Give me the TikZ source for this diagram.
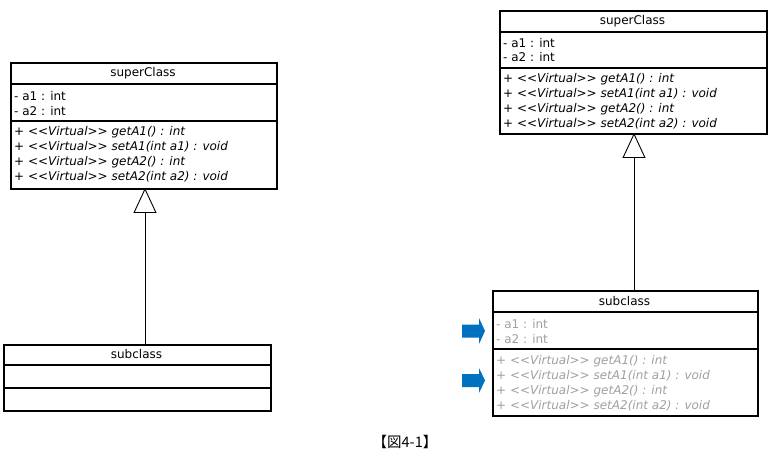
\documentclass[tikz,border=0pt]{standalone}
\usepackage{fontspec}
\setmainfont{DejaVu Sans}[Ligatures=ResetAll]
\newfontfamily\cjkfont{Noto Sans CJK JP}
\usetikzlibrary{arrows.meta}
\definecolor{arrowblue}{HTML}{0070C0}
\definecolor{fadedtext}{HTML}{A0A0A0}
\newcommand\dlt{<\kern0pt<}
\newcommand\dgt{>\kern0pt>}
\tikzset{
  classbox/.style={draw, line width=1.8pt, fill=white, rectangle, inner sep=0pt, anchor=north west},
  sepline/.style={line width=1.8pt},
  title/.style={font=\fontsize{12}{14}\selectfont, inner sep=0pt, anchor=center},
  member/.style={font=\fontsize{12}{14}\selectfont, inner sep=0pt, anchor=west},
  method/.style={font=\fontsize{12}{14}\selectfont\itshape, inner sep=0pt, anchor=west},
  faded/.style={text=fadedtext},
  inherit/.style={line width=0.9pt, -{Triangle[open, width=23pt, length=25pt, line width=0.9pt]}},
  pointer/.style={fill=arrowblue}
}
\begin{document}
\begin{tikzpicture}[x=1pt,y=-1pt]
\useasboundingbox (0,0) rectangle (770,462);
% ---------- left superClass ----------
\node[classbox, minimum width=266pt, minimum height=126pt] (Lsup) at (10,62) {};
\draw[sepline] (10,84) -- (276,84);
\draw[sepline] (10,121) -- (276,121);
\node[title] (Lsupt) at (143,73) {superClass};
\node[member] (La1) at (14,96) {- a1 : int};
\node[member] (La2) at (14,111) {- a2 : int};
\node[method] (Lm1) at (14,132) {+ \dlt Virtual\dgt{} getA1() : int};
\node[method] (Lm2) at (14,147) {+ \dlt Virtual\dgt{} setA1(int a1) : void};
\node[method] (Lm3) at (14,162) {+ \dlt Virtual\dgt{} getA2() : int};
\node[method] (Lm4) at (14,177) {+ \dlt Virtual\dgt{} setA2(int a2) : void};
% ---------- left subclass ----------
\node[classbox, minimum width=267pt, minimum height=66pt] (Lsub) at (3,344) {};
\draw[sepline] (3,365) -- (270,365);
\draw[sepline] (3,388) -- (270,388);
\node[title] (Lsubt) at (136.5,354.5) {subclass};
\coordinate (Lsubtop) at (145,344);
\coordinate (Lsupbot) at (145,188);
\draw[inherit] (Lsubtop) -- (Lsupbot);
% ---------- right superClass ----------
\node[classbox, minimum width=267pt, minimum height=123pt] (Rsup) at (499,10) {};
\draw[sepline] (499,32) -- (766,32);
\draw[sepline] (499,68) -- (766,68);
\node[title] (Rsupt) at (632.5,21) {superClass};
\node[member] (Ra1) at (503,43) {- a1 : int};
\node[member] (Ra2) at (503,57) {- a2 : int};
\node[method] (Rm1) at (503,79) {+ \dlt Virtual\dgt{} getA1() : int};
\node[method] (Rm2) at (503,94) {+ \dlt Virtual\dgt{} setA1(int a1) : void};
\node[method] (Rm3) at (503,109) {+ \dlt Virtual\dgt{} getA2() : int};
\node[method] (Rm4) at (503,124) {+ \dlt Virtual\dgt{} setA2(int a2) : void};
% ---------- right subclass ----------
\node[classbox, minimum width=265pt, minimum height=125pt] (Rsub) at (492,290) {};
\draw[sepline] (492,312) -- (757,312);
\draw[sepline] (492,349) -- (757,349);
\node[title] (Rsubt) at (624.5,301) {subclass};
\node[member, faded] (Rsa1) at (496,324) {- a1 : int};
\node[member, faded] (Rsa2) at (496,339) {- a2 : int};
\node[method, faded] (Rsm1) at (496,361) {+ \dlt Virtual\dgt{} getA1() : int};
\node[method, faded] (Rsm2) at (496,376) {+ \dlt Virtual\dgt{} setA1(int a1) : void};
\node[method, faded] (Rsm3) at (496,391) {+ \dlt Virtual\dgt{} getA2() : int};
\node[method, faded] (Rsm4) at (496,406) {+ \dlt Virtual\dgt{} setA2(int a2) : void};
\coordinate (Rsubtop) at (634,290);
\coordinate (Rsupbot) at (634,133);
\draw[inherit] (Rsubtop) -- (Rsupbot);
% ---------- blue pointers ----------
\fill[pointer] (462,324.5) -- (479,324.5) -- (479,318) -- (485,331) -- (479,344) -- (479,337.5) -- (462,337.5) -- cycle;
\fill[pointer] (462,374) -- (479,374) -- (479,368) -- (485,380.5) -- (479,393) -- (479,387) -- (462,387) -- cycle;
% ---------- caption ----------
\node[font=\cjkfont\fontsize{14.5}{16}\selectfont, inner sep=0pt] (cap) at (405,442) {【図4-1】};
\end{tikzpicture}
\end{document}
